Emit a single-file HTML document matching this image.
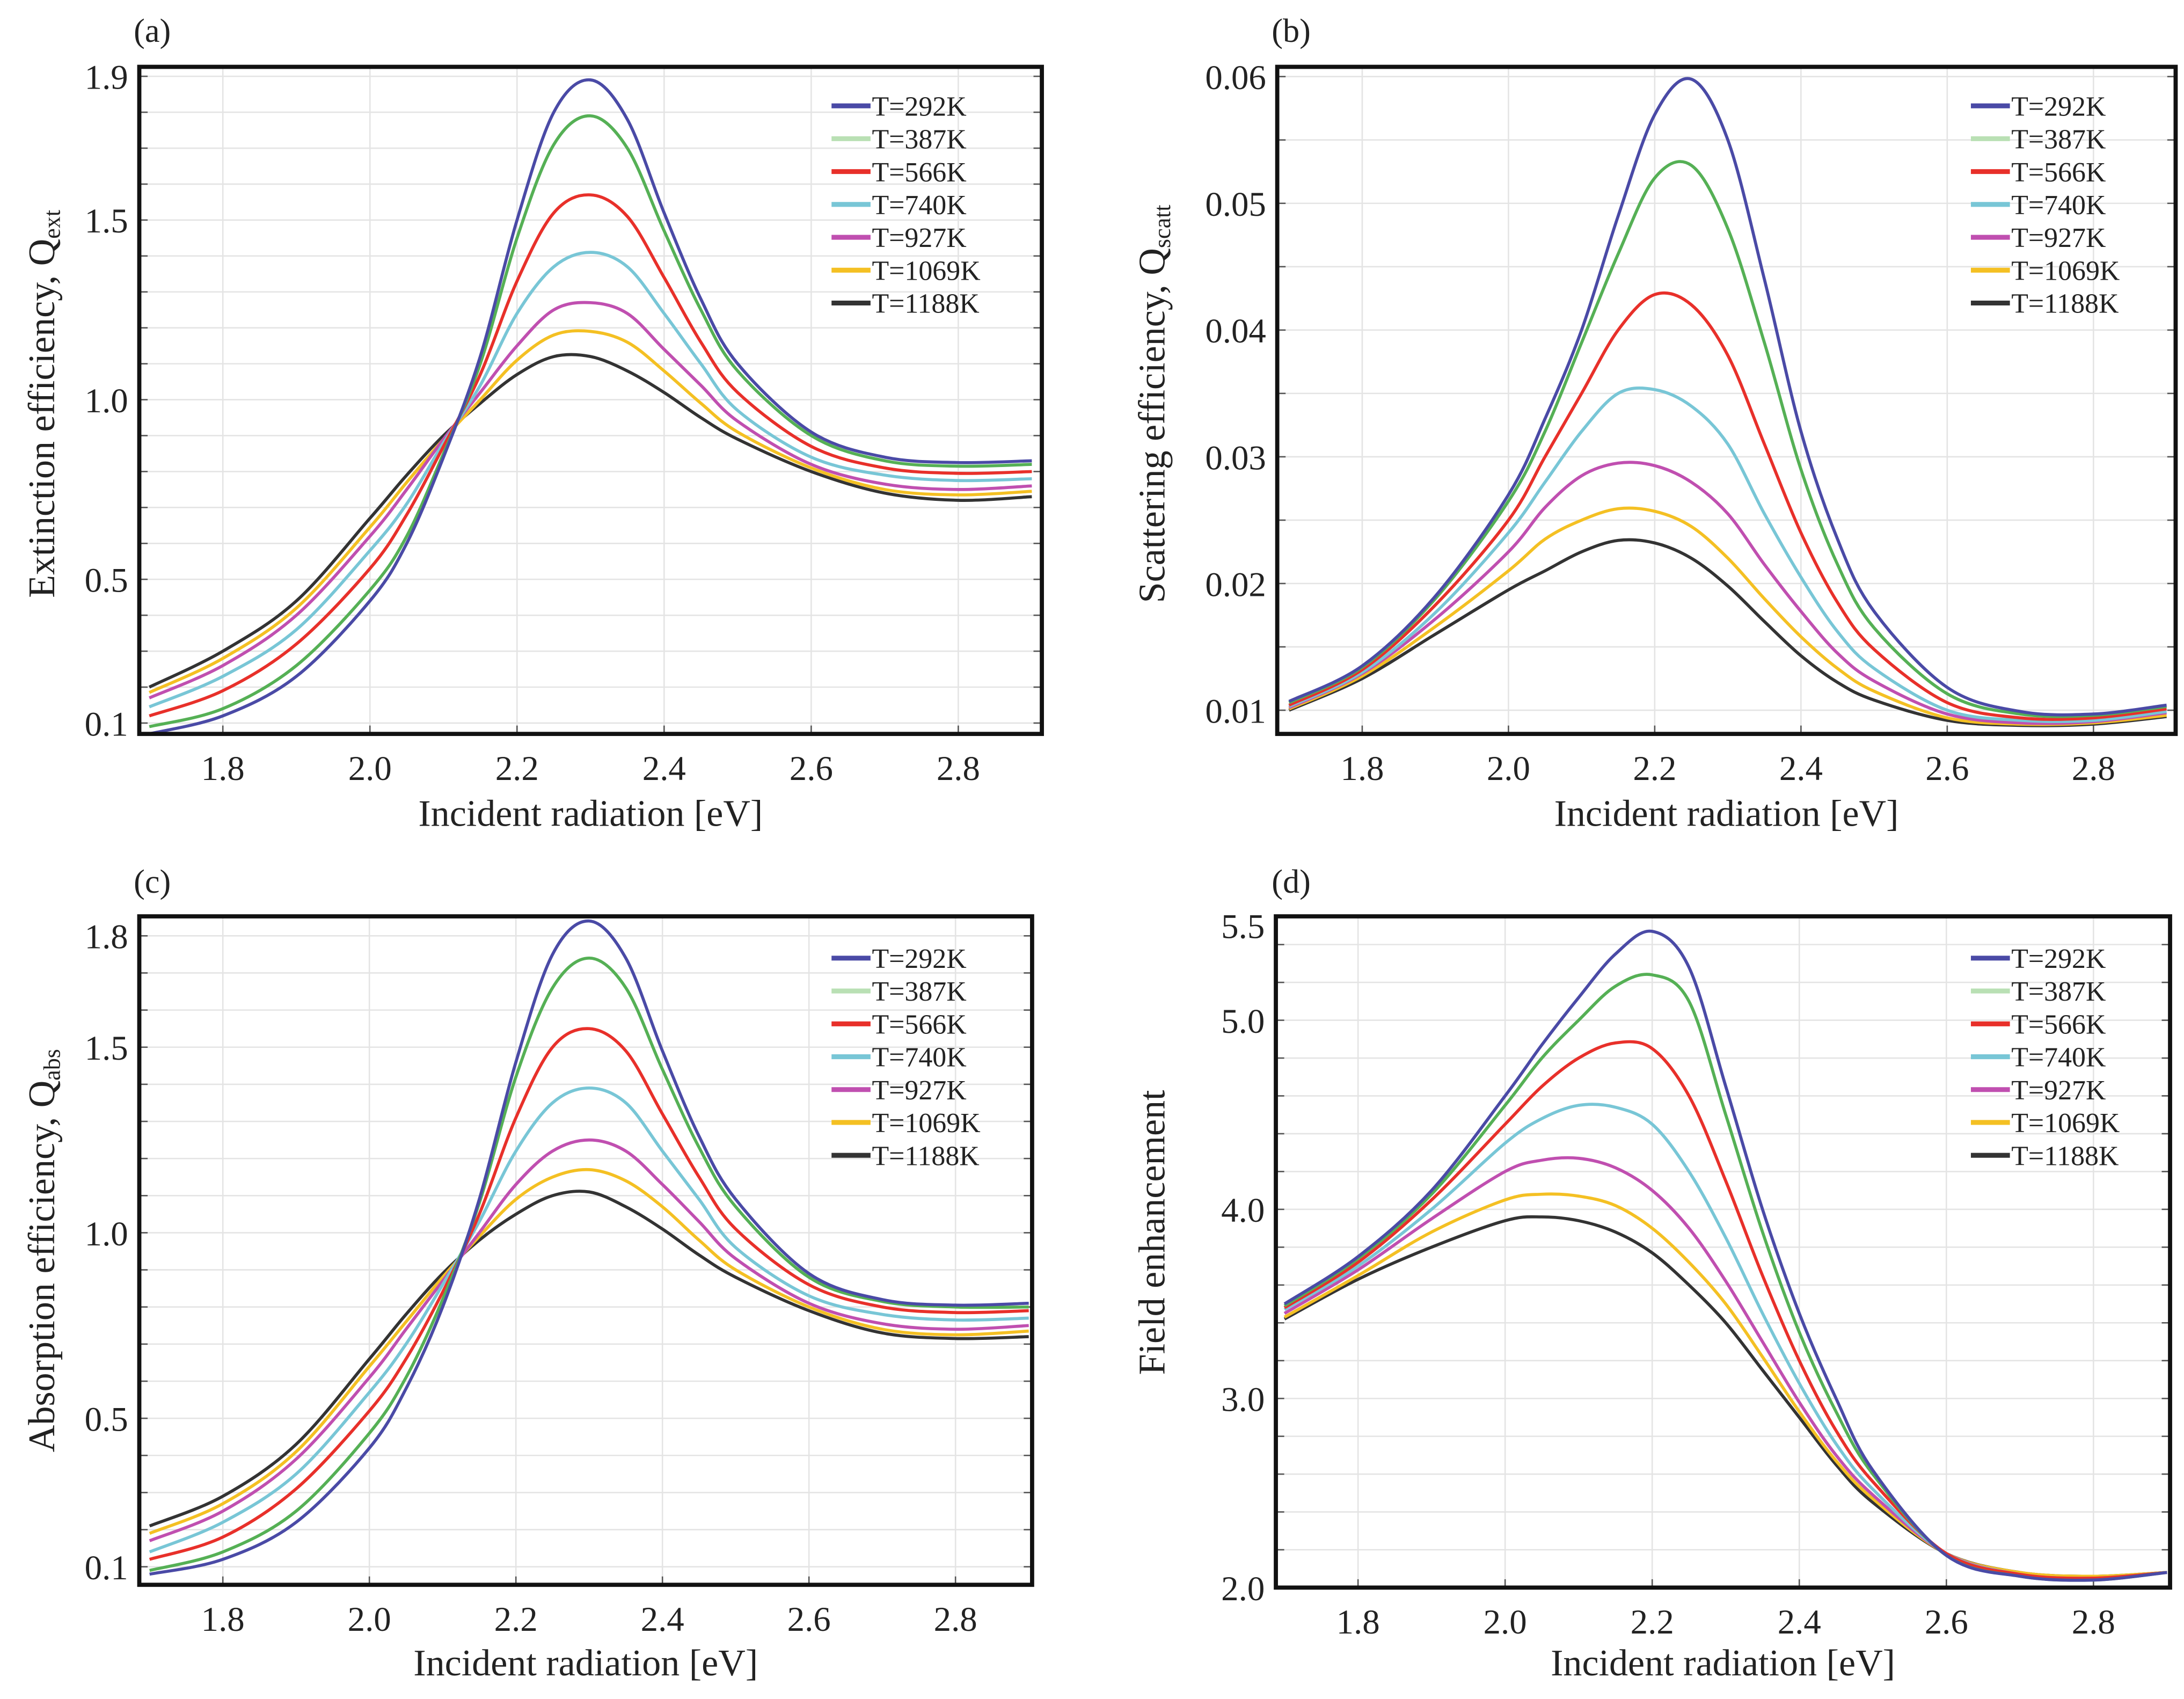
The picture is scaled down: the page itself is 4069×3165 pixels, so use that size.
<!DOCTYPE html>
<html><head><meta charset="utf-8">
<style>
html,body{margin:0;padding:0;background:#fff;}
svg{display:block;}
text{font-family:"Liberation Serif","DejaVu Serif",serif;fill:#222;}
</style></head>
<body>
<svg id="fig" xmlns="http://www.w3.org/2000/svg" width="4069" height="3165" viewBox="0 0 1568 1220" preserveAspectRatio="none"></svg>
<script>
const energies = [1.7,1.8,1.9,2.0,2.05,2.1,2.15,2.2,2.25,2.3,2.35,2.4,2.45,2.5,2.6,2.7,2.8,2.9];
const seriesNames = ["T=292K","T=387K","T=566K","T=740K","T=927K","T=1069K","T=1188K"];
const xTickLabels = [1.8,2.0,2.2,2.4,2.6,2.8];

const extT292 = [0.07,0.12,0.23,0.44,0.60,0.84,1.12,1.50,1.80,1.89,1.78,1.52,1.28,1.10,0.91,0.84,0.825,0.83];
const extT387 = [0.09,0.14,0.26,0.47,0.62,0.85,1.10,1.45,1.71,1.79,1.70,1.47,1.25,1.08,0.90,0.83,0.815,0.82];
const extT566 = [0.12,0.19,0.32,0.53,0.68,0.87,1.07,1.33,1.52,1.57,1.51,1.34,1.16,1.02,0.87,0.81,0.795,0.80];
const extT740 = [0.145,0.23,0.36,0.58,0.71,0.88,1.04,1.24,1.37,1.41,1.37,1.24,1.10,0.97,0.84,0.79,0.775,0.78];
const extT927 = [0.17,0.26,0.40,0.62,0.75,0.89,1.02,1.15,1.25,1.27,1.24,1.14,1.04,0.94,0.82,0.765,0.75,0.76];
const extT1069 = [0.185,0.28,0.42,0.645,0.77,0.89,1.00,1.11,1.18,1.19,1.16,1.08,0.99,0.91,0.81,0.75,0.735,0.745];
const extT1188 = [0.20,0.30,0.44,0.67,0.79,0.90,0.99,1.07,1.12,1.12,1.08,1.02,0.95,0.89,0.80,0.74,0.72,0.73];
const extTicks = [0.1,0.5,1.0,1.5,1.9];

const scaT292 = [0.0107,0.0135,0.019,0.027,0.033,0.040,0.049,0.057,0.0598,0.055,0.044,0.032,0.0235,0.0178,0.0118,0.0099,0.0097,0.0104];
const scaT387 = [0.0106,0.0134,0.0188,0.0265,0.032,0.039,0.046,0.052,0.053,0.048,0.039,0.029,0.0215,0.0165,0.0113,0.0097,0.0096,0.0103];
const scaT566 = [0.0104,0.0132,0.0183,0.025,0.030,0.035,0.040,0.0428,0.042,0.038,0.031,0.024,0.0185,0.0148,0.0106,0.0094,0.0094,0.0101];
const scaT740 = [0.0103,0.013,0.0177,0.024,0.028,0.032,0.035,0.0353,0.034,0.031,0.0255,0.0205,0.0162,0.0133,0.0100,0.0092,0.0092,0.0099];
const scaT927 = [0.0102,0.0129,0.0172,0.0225,0.026,0.0285,0.0295,0.0293,0.028,0.0255,0.0215,0.0178,0.0145,0.0123,0.0097,0.0090,0.0091,0.0098];
const scaT1069 = [0.0101,0.0127,0.0166,0.021,0.0235,0.025,0.0259,0.0257,0.0245,0.022,0.0188,0.0158,0.0133,0.0115,0.0094,0.0089,0.0090,0.0096];
const scaT1188 = [0.0100,0.0125,0.016,0.0195,0.021,0.0225,0.0234,0.0232,0.022,0.0198,0.017,0.0143,0.0122,0.0108,0.0092,0.0088,0.0089,0.0095];
const scaTicks = [0.01,0.02,0.03,0.04,0.05,0.06];

const absT292 = [0.08,0.12,0.22,0.42,0.58,0.80,1.09,1.46,1.75,1.84,1.74,1.49,1.26,1.09,0.89,0.82,0.805,0.81];
const absT387 = [0.09,0.14,0.25,0.46,0.61,0.82,1.08,1.42,1.66,1.74,1.66,1.44,1.23,1.07,0.88,0.815,0.80,0.80];
const absT566 = [0.12,0.18,0.31,0.52,0.66,0.84,1.05,1.31,1.50,1.55,1.49,1.32,1.15,1.01,0.86,0.80,0.785,0.79];
const absT740 = [0.14,0.22,0.35,0.57,0.70,0.86,1.03,1.22,1.35,1.39,1.35,1.22,1.09,0.96,0.83,0.78,0.765,0.77];
const absT927 = [0.17,0.25,0.39,0.61,0.74,0.87,1.00,1.13,1.22,1.25,1.22,1.13,1.03,0.93,0.81,0.755,0.74,0.75];
const absT1069 = [0.19,0.27,0.41,0.64,0.76,0.88,0.99,1.09,1.15,1.17,1.14,1.07,0.98,0.90,0.80,0.74,0.725,0.735];
const absT1188 = [0.21,0.29,0.43,0.66,0.78,0.89,0.98,1.05,1.10,1.11,1.07,1.01,0.94,0.88,0.79,0.73,0.715,0.72];
const absTicks = [0.1,0.5,1.0,1.5,1.8];

const feT292 = [3.5,3.75,4.1,4.6,4.87,5.12,5.35,5.47,5.28,4.65,4.0,3.45,3.0,2.62,2.17,2.06,2.04,2.08];
const feT387 = [3.49,3.74,4.08,4.55,4.8,5.0,5.18,5.24,5.1,4.5,3.88,3.35,2.93,2.6,2.17,2.06,2.04,2.08];
const feT566 = [3.48,3.72,4.05,4.45,4.65,4.8,4.88,4.85,4.6,4.15,3.65,3.2,2.83,2.56,2.18,2.07,2.05,2.08];
const feT740 = [3.47,3.7,4.0,4.35,4.48,4.55,4.54,4.45,4.2,3.85,3.45,3.08,2.76,2.52,2.18,2.07,2.05,2.08];
const feT927 = [3.45,3.68,3.95,4.2,4.26,4.27,4.22,4.1,3.9,3.62,3.3,2.98,2.7,2.49,2.18,2.07,2.05,2.08];
const feT1069 = [3.43,3.65,3.88,4.05,4.08,4.07,4.02,3.9,3.72,3.5,3.22,2.93,2.67,2.47,2.18,2.08,2.06,2.08];
const feT1188 = [3.42,3.63,3.8,3.94,3.96,3.94,3.88,3.77,3.6,3.4,3.15,2.9,2.65,2.45,2.18,2.08,2.06,2.08];
const feTicks = [2.0,3.0,4.0,5.0,5.5];

const colors = ["#4a4aa6","#55b055","#e8302a","#78c6d6","#c04fb0","#f4c023","#333333"];
const legendColors = ["#4a4aa6","#b9e0b4","#e8302a","#78c6d6","#c04fb0","#f4c023","#333333"];

const NS="http://www.w3.org/2000/svg";
const svg=document.getElementById('fig');
function mk(tag,attrs,parent){const e=document.createElementNS(NS,tag);for(const k in attrs)e.setAttribute(k,attrs[k]);(parent||svg).appendChild(e);return e;}

const panels=[
 {key:'a',label:'(a)',lx:96,ly:30,fx0:100,fx1:748,fy0:48,fy1:527,xA:160,xK:528,
  y:v=>287-(v-1)*258,ticks:extTicks,fmt:v=>v.toFixed(1),grid:[0.1,1.9,0.1],
  series:[extT292,extT387,extT566,extT740,extT927,extT1069,extT1188],
  title:'Extinction efficiency, Q',sub:'ext',tx:30,ty:290,legX:597,legY:76,xlabY:593},
 {key:'b',label:'(b)',lx:913,ly:30,fx0:917,fx1:1562,fy0:48,fy1:527,xA:978,xK:525,
  y:v=>510-(v-0.01)*9100,ticks:scaTicks,fmt:v=>v.toFixed(2),grid:[0.01,0.06,0.005],
  series:[scaT292,scaT387,scaT566,scaT740,scaT927,scaT1069,scaT1188],
  title:'Scattering efficiency, Q',sub:'scatt',tx:827,ty:290,legX:1415,legY:76,xlabY:593},
 {key:'c',label:'(c)',lx:96,ly:641,fx0:100,fx1:741,fy0:658,fy1:1138,xA:160,xK:526,
  y:v=>672+(1.8-v)*266.5,ticks:absTicks,fmt:v=>v.toFixed(1),grid:[0.1,1.8,0.1],
  series:[absT292,absT387,absT566,absT740,absT927,absT1069,absT1188],
  title:'Absorption efficiency, Q',sub:'abs',tx:30,ty:898,legX:597,legY:688,xlabY:1203},
 {key:'d',label:'(d)',lx:913,ly:641,fx0:916,fx1:1558,fy0:658,fy1:1140,xA:975,xK:528,
  y:v=>1140-(v-2)*135.8,ticks:feTicks,fmt:v=>v.toFixed(1),grid:[2.0,5.6,0.2],
  series:[feT292,feT387,feT566,feT740,feT927,feT1069,feT1188],
  title:'Field enhancement',sub:'',tx:827,ty:885,legX:1415,legY:688,xlabY:1203}
];

function smoothPath(pts){
  let d='M'+pts[0][0].toFixed(2)+','+pts[0][1].toFixed(2);
  for(let i=0;i<pts.length-1;i++){
    const p0=pts[Math.max(0,i-1)],p1=pts[i],p2=pts[i+1],p3=pts[Math.min(pts.length-1,i+2)];
    const c1x=p1[0]+(p2[0]-p0[0])/6,c1y=p1[1]+(p2[1]-p0[1])/6;
    const c2x=p2[0]-(p3[0]-p1[0])/6,c2y=p2[1]-(p3[1]-p1[1])/6;
    d+=' C'+c1x.toFixed(2)+','+c1y.toFixed(2)+' '+c2x.toFixed(2)+','+c2y.toFixed(2)+' '+p2[0].toFixed(2)+','+p2[1].toFixed(2);
  }
  return d;
}

panels.forEach(p=>{
  const xs=E=>p.xA+(E-1.8)*p.xK;
  const g=mk('g',{});
  
  
  const lab=mk('text',{x:p.lx,y:p.ly,'font-size':24},g);lab.textContent=p.label;
  
  
  const clipId='clip'+p.key;
  const cp=mk('clipPath',{id:clipId},g);
  mk('rect',{x:p.fx0,y:p.fy0,width:p.fx1-p.fx0,height:p.fy1-p.fy0},cp);
  for(let v=p.grid[0];v<=p.grid[1]+1e-9;v+=p.grid[2]){
    const yy=p.y(v); if(yy<p.fy0||yy>p.fy1) continue;
    const gl=mk('line',{x1:p.fx0,x2:p.fx1,y1:yy,y2:yy,stroke:'#e4e4e4','stroke-width':1},g);
    
    
    mk('line',{x1:p.fx0,x2:p.fx0+6,y1:yy,y2:yy,stroke:'#555','stroke-width':1},g);
    mk('line',{x1:p.fx1-6,x2:p.fx1,y1:yy,y2:yy,stroke:'#555','stroke-width':1},g);
  }
  xTickLabels.forEach(E=>{
    const xx=xs(E);
    const vl=mk('line',{x1:xx,x2:xx,y1:p.fy0,y2:p.fy1,stroke:'#e4e4e4','stroke-width':1},g);
    
    
    mk('line',{x1:xx,x2:xx,y1:p.fy1-6,y2:p.fy1,stroke:'#555','stroke-width':1},g);
    const t=mk('text',{x:xx,y:p.fy1+33,'font-size':25,'text-anchor':'middle'},g);
    t.textContent=E.toFixed(1);
    
    
  });
  p.ticks.forEach(v=>{
    const t=mk('text',{x:p.fx0-8,y:p.y(v)+9,'font-size':25,'text-anchor':'end'},g);
    t.textContent=p.fmt(v);
    
    
  });
  const cg=mk('g',{'clip-path':'url(#'+clipId+')'},g);
  for(let s=p.series.length-1;s>=0;s--){
    const pts=energies.map((E,i)=>[xs(E),p.y(p.series[s][i])]);
    const path=mk('path',{d:smoothPath(pts),fill:'none',stroke:colors[s],'stroke-width':2.2,'stroke-linejoin':'round'},cg);
    
    
  }
  const fr=mk('rect',{x:p.fx0,y:p.fy0,width:p.fx1-p.fx0,height:p.fy1-p.fy0,fill:'none',stroke:'#111','stroke-width':3},g);
  
  
  const lg=mk('g',{},g);
  
  
  seriesNames.forEach((n,i)=>{
    const yy=p.legY+i*23.6;
    const ll=mk('line',{x1:p.legX,x2:p.legX+28,y1:yy,y2:yy,stroke:legendColors[i],'stroke-width':3.5},lg);
    
    
    const t=mk('text',{x:p.legX+29,y:yy+7,'font-size':20},lg);
    t.textContent=n;
    
    
  });
  const xt=mk('text',{x:(p.fx0+p.fx1)/2,y:p.xlabY,'font-size':27,'text-anchor':'middle'},g);
  xt.textContent='Incident radiation [eV]';
  
  
  const yt=mk('text',{x:0,y:0,'font-size':27,'text-anchor':'middle',transform:'translate('+(p.tx+9)+','+p.ty+') rotate(-90)'},g);
  yt.textContent=p.title;
  if(p.sub){const ts=mk('tspan',{'font-size':17,dy:4},yt);ts.textContent=p.sub;}
  
  
});
</script>
</body></html>
